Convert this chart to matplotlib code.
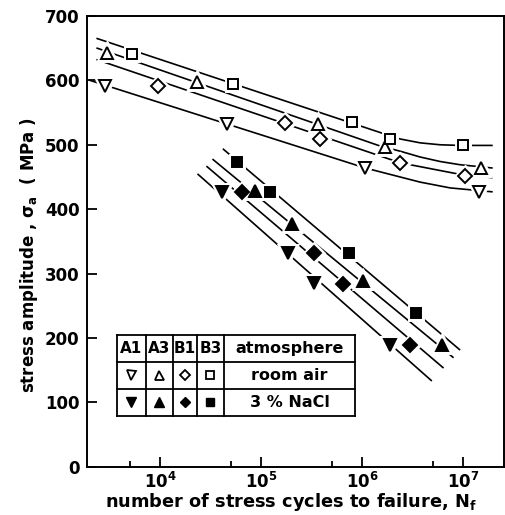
import numpy as np
import matplotlib
matplotlib.use("Agg")
import matplotlib.pyplot as plt

plt.rcParams['font.family'] = 'DejaVu Sans'
plt.rcParams['font.weight'] = 'bold'
plt.rcParams['mathtext.fontset'] = 'dejavusans'

# --- room air: measured points (cycles, MPa) ---
air_A1_N = [2.85e3, 4.6e4, 1.07e6, 1.42e7]
air_A1_S = [591, 533, 464, 426]
air_A3_N = [2.96e3, 2.31e4, 3.69e5, 1.69e6, 1.50e7]
air_A3_S = [643, 597, 533, 496, 464]
air_B1_N = [9.6e3, 1.73e5, 3.84e5, 2.38e6, 1.05e7]
air_B1_S = [592, 534, 509, 472, 452]
air_B3_N = [5.25e3, 5.25e4, 7.91e5, 1.89e6, 1.0e7]
air_B3_S = [641, 595, 535, 509, 499]

# --- 3% NaCl: measured points ---
nacl_A1_N = [4.08e4, 1.84e5, 3.30e5, 1.89e6]
nacl_A1_S = [426, 332, 286, 189]
nacl_A3_N = [8.73e4, 2.01e5, 1.03e6, 6.15e6]
nacl_A3_S = [428, 377, 288, 189]
nacl_B1_N = [6.44e4, 3.35e5, 6.44e5, 2.94e6]
nacl_B1_S = [427, 332, 283, 189]
nacl_B3_N = [5.74e4, 1.23e5, 7.48e5, 3.43e6]
nacl_B3_S = [473, 427, 332, 239]

# --- fitted curves ---
fit_air_B3_N = [2.39e3, 1.51e6, 2.38e6, 3.75e6, 5.92e6, 9.33e6, 1.92e7]
fit_air_B3_S = [665, 519, 509, 503, 500, 499, 499]
fit_air_A3_N = [2.39e3, 1.51e6, 2.38e6, 3.75e6, 5.92e6, 9.33e6, 1.92e7]
fit_air_A3_S = [650, 498, 490, 481, 474, 469, 464]
fit_air_B1_N = [2.39e3, 2.38e6, 4.71e6, 9.33e6, 1.92e7]
fit_air_B1_S = [632, 472, 463, 454, 449]
fit_air_A1_N = [2.03e3, 1.07e6, 1.89e6, 3.75e6, 7.43e6, 1.92e7]
fit_air_A1_S = [600, 464, 454, 442, 433, 427]

fit_nacl_B3_N = [4.24e4, 9.18e6]
fit_nacl_B3_S = [493, 182]
fit_nacl_A3_N = [3.35e4, 7.91e6]
fit_nacl_A3_S = [477, 170]
fit_nacl_B1_N = [2.92e4, 6.30e6]
fit_nacl_B1_S = [466, 154]
fit_nacl_A1_N = [2.38e4, 4.82e6]
fit_nacl_A1_S = [454, 134]

fig = plt.figure(figsize=(5.06, 5.15), dpi=100)
ax = fig.add_axes([0.1713, 0.0938, 0.8247, 0.8751])
ax.set_xscale('log')
ax.set_xlim(1.88e3, 2.53e7)
ax.set_ylim(0, 700)

lw = 1.2
for n, s in [(fit_air_B3_N, fit_air_B3_S), (fit_air_A3_N, fit_air_A3_S),
             (fit_air_B1_N, fit_air_B1_S), (fit_air_A1_N, fit_air_A1_S),
             (fit_nacl_B3_N, fit_nacl_B3_S), (fit_nacl_A3_N, fit_nacl_A3_S),
             (fit_nacl_B1_N, fit_nacl_B1_S), (fit_nacl_A1_N, fit_nacl_A1_S)]:
    ax.plot(n, s, color='black', lw=lw, zorder=2)

marks = {'A1': ('v', 9), 'A3': ('^', 9), 'B1': ('D', 7), 'B3': ('s', 7.5)}
series = [
    ('A1', air_A1_N, air_A1_S, False), ('A3', air_A3_N, air_A3_S, False),
    ('B1', air_B1_N, air_B1_S, False), ('B3', air_B3_N, air_B3_S, False),
    ('A1', nacl_A1_N, nacl_A1_S, True), ('A3', nacl_A3_N, nacl_A3_S, True),
    ('B1', nacl_B1_N, nacl_B1_S, True), ('B3', nacl_B3_N, nacl_B3_S, True),
]
for key, n, s, filled in series:
    m, ms = marks[key]
    # white halo so the fit lines break around the symbols
    ax.plot(n, s, ls='none', marker=m, ms=ms, mfc='white', mec='white',
            mew=5, zorder=3)
    ax.plot(n, s, ls='none', marker=m, ms=ms,
            mfc='black' if filled else 'white', mec='black', mew=1.4, zorder=4)

# ticks
ax.set_yticks([0, 100, 200, 300, 400, 500, 600, 700])
ax.set_xticks([1e4, 1e5, 1e6, 1e7])
ax.set_xticklabels([r'$\mathbf{10^{4}}$', r'$\mathbf{10^{5}}$',
                    r'$\mathbf{10^{6}}$', r'$\mathbf{10^{7}}$'])
ax.set_xticks([5e3, 5e4, 5e5, 5e6], minor=True)
ax.xaxis.set_minor_formatter(matplotlib.ticker.NullFormatter())
ax.yaxis.set_minor_locator(matplotlib.ticker.NullLocator())
ax.tick_params(which='major', direction='in', length=7, width=1.3,
               labelsize=12, pad=5)
ax.tick_params(axis='x', which='major', pad=4)
ax.tick_params(which='minor', direction='in', length=4, width=1.3)
for lab in ax.get_yticklabels():
    lab.set_fontweight('bold')
for sp in ax.spines.values():
    sp.set_linewidth(1.4)

fig.text(0.575, 0.026, r'number of stress cycles to failure, N$_\mathbf{f}$',
         ha='center', va='center', fontsize=12.8, fontweight='bold')
ax.set_ylabel(r'stress amplitude , $\mathbf{\sigma_a}$  ( MPa )',
              fontsize=12, fontweight='bold')
ax.yaxis.set_label_coords(-0.112, 0.47)

# legend table
cols = [0.0726, 0.1421, 0.2068, 0.2643, 0.3290, 0.6429]
rows = [0.2922, 0.2334, 0.1735, 0.1125]
tk = dict(transform=ax.transAxes, color='black', lw=1.3, zorder=5)
for c in cols:
    ax.plot([c, c], [rows[0], rows[-1]], **tk)
for r in rows:
    ax.plot([cols[0], cols[-1]], [r, r], **tk)
heads = ['A1', 'A3', 'B1', 'B3']
keys = ['A1', 'A3', 'B1', 'B3']
for i, h in enumerate(heads):
    cx = (cols[i] + cols[i + 1]) / 2
    ax.text(cx, (rows[0] + rows[1]) / 2, h, transform=ax.transAxes,
            ha='center', va='center', fontsize=11, fontweight='bold')
    m, ms = marks[keys[i]]
    ax.plot(cx, (rows[1] + rows[2]) / 2, marker=m, ms=ms * 0.72,
            mfc='white', mec='black', mew=1.3, transform=ax.transAxes)
    ax.plot(cx, (rows[2] + rows[3]) / 2, marker=m, ms=ms * 0.8,
            mfc='black', mec='black', mew=1.0, transform=ax.transAxes)
cx = (cols[4] + cols[5]) / 2
ax.text(cx, (rows[0] + rows[1]) / 2, 'atmosphere', transform=ax.transAxes,
        ha='center', va='center', fontsize=11.5, fontweight='bold')
ax.text(cx, (rows[1] + rows[2]) / 2, 'room air', transform=ax.transAxes,
        ha='center', va='center', fontsize=11.5, fontweight='bold')
ax.text(cx, (rows[2] + rows[3]) / 2, '3 % NaCl', transform=ax.transAxes,
        ha='center', va='center', fontsize=11.5, fontweight='bold')

fig.savefig('out.png', dpi=100)
